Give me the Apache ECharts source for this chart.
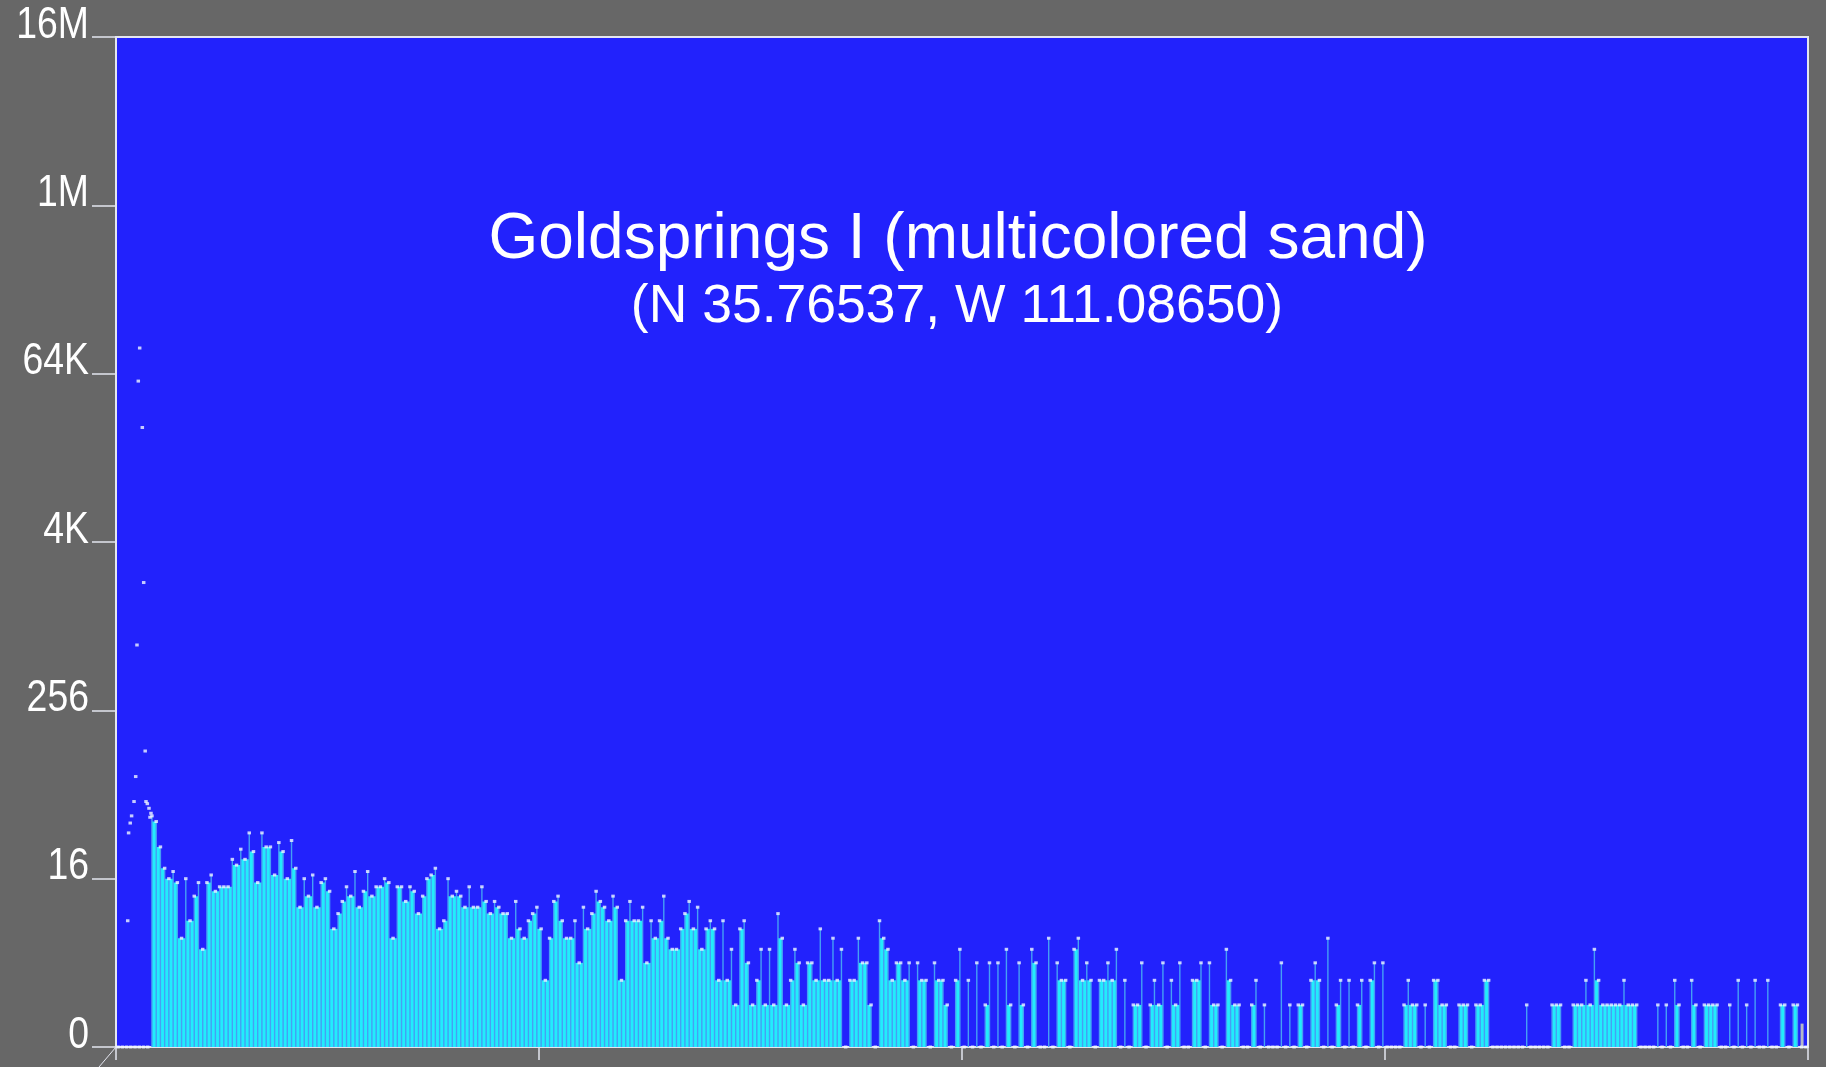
<!DOCTYPE html>
<html>
<head>
<meta charset="utf-8">
<script src="https://cdn.jsdelivr.net/npm/echarts@6/dist/echarts.min.js"></script>
<style>
  html, body { margin: 0; padding: 0; background: #676767; }
  #chart { width: 1826px; height: 1067px; }
</style>
</head>
<body>
<div id="chart"></div>
<script>
// Pixel counts per bin; 400 bins, 100 bins between x ticks.
const countsA = [
  0, 0, 0, 0, 0, 0, 0, 0,
  44, 40, 26, 18, 15, 17, 14, 5, 15, 7,
  11, 14, 4, 14, 16, 12, 13, 13, 13, 21,
  19, 25, 21, 33, 24, 14, 33, 26, 26, 16,
  28, 24, 15, 29, 18, 9, 15, 11, 16, 9,
  14, 15, 12, 6, 8, 10, 13, 11, 17, 9,
  12, 17, 11, 13, 13, 15, 14, 5, 13, 13,
  10, 13, 12, 8, 11, 15, 16, 18, 6, 7,
  15, 11, 12, 11, 9, 13, 9, 9, 13, 10,
  8, 10, 9, 8, 8, 5, 10, 6, 5, 7,
  8, 9
];
const countsB = [
  6, 2, 5, 10, 11, 7, 5, 5, 7, 3,
  9, 6, 8, 12, 10, 9, 7, 11, 9, 2,
  7, 10, 7, 7, 9, 3, 7, 5, 7, 11,
  5, 4, 4, 6, 8, 10, 6, 9, 4, 6,
  7, 6, 2, 7, 2, 4, 1, 6, 7, 3,
  1, 2, 4, 1, 4, 1, 8, 5, 1, 2,
  4, 3, 1, 3, 3, 2, 6, 2, 2, 5,
  2, 4, 0, 2, 2, 5, 3, 3, 1, 0,
  7, 5, 4, 2, 3, 3, 2, 3, 0, 3,
  2, 2, 0, 3, 2, 2, 1, 0, 2, 4
];
const countsC = [
  0, 2, 0, 3, 0, 1, 3, 0, 3, 0,
  4, 1, 0, 3, 1, 0, 4, 3, 0, 0,
  5, 0, 3, 2, 2, 0, 4, 5, 2, 3,
  2, 0, 2, 2, 3, 2, 4, 0, 2, 0,
  1, 1, 3, 0, 1, 2, 1, 3, 0, 2,
  1, 3, 0, 0, 2, 2, 3, 0, 3, 1,
  1, 0, 4, 2, 1, 1, 0, 0, 1, 2,
  0, 1, 0, 0, 0, 3, 0, 1, 0, 1,
  1, 0, 2, 3, 2, 0, 5, 0, 1, 2,
  0, 2, 0, 1, 2, 0, 2, 3, 0, 3
];
const countsD = [
  0, 0, 0, 0, 1, 2, 1, 1, 0, 1,
  0, 2, 2, 1, 1, 0, 0, 1, 1, 1,
  0, 1, 1, 2, 2, 0, 0, 0, 0, 0,
  0, 0, 0, 1, 0, 0, 0, 0, 0, 1,
  1, 1, 0, 0, 1, 1, 1, 2, 1, 4,
  2, 1, 1, 1, 1, 1, 2, 1, 1, 1,
  0, 0, 0, 0, 1, 0, 1, 0, 2, 1,
  0, 0, 2, 1, 0, 1, 1, 1, 1, 0,
  0, 1, 0, 2, 0, 1, 0, 2, 0, 0,
  2, 0, 0, 1, 1, 0, 1, 1, 0, 0
];

// Isolated points before the first bar (position in bin units, count)
const leadBins   = [2.77, 2.98, 3.36, 3.69, 4.26, 4.66, 4.96, 5.27, 5.60, 6.22, 6.55, 6.90, 7.09, 7.40, 7.80, 8.04, 8.27];
const leadCounts = [7, 33, 39, 44, 56, 85, 750, 58000, 100000, 27000, 2100, 130, 56, 54, 50, 43, 46];

// Overflow marker at the right end of the range
const tailBins   = [398.6];
const tailCounts = [0.47];

// Y tick labels, one per power of 16
const yTickValues = [0, 1, 2, 3, 4, 5, 6];
const yTickLabels = ['0', '16', '256', '4K', '64K', '1M', '16M'];

const titleText = 'Goldsprings I (multicolored sand)';
const subtitleText = '(N 35.76537, W 111.08650)';

const counts = countsA.concat(countsB, countsC, countsD);
const toAxis = c => Math.log(c + 1) / Math.log(16);

const FILL = '#22ecfc';
const STEM = '#45a0f4';
const DOT = '#f0f7ff';
const LINE = '#e4e6f0';
const LABEL_FONT = '44px "Liberation Sans", Arial, sans-serif';

// Shaded band between neighbouring non-empty bins, up to the lower of the two
const fillData = [];
for (let i = 0; i < counts.length - 1; i++) {
  if (counts[i] > 0 && counts[i + 1] > 0) {
    fillData.push([i + 0.5, i + 1.5, toAxis(Math.min(counts[i], counts[i + 1]))]);
  }
}
const stemData = [];
counts.forEach((c, i) => { if (c > 0) stemData.push([i + 0.5, toAxis(c)]); });
const dotData = counts.map((c, i) => [i + 0.5, toAxis(c)]);
const leadData = leadBins.map((b, i) => [b, toAxis(leadCounts[i])]);
const tailData = tailBins.map((b, i) => [b, toAxis(tailCounts[i])]);

const chart = echarts.init(document.getElementById('chart'), null, { renderer: 'canvas' });

chart.setOption({
  animation: false,
  backgroundColor: '#676767',
  grid: {
    left: 116, top: 37, right: 18, bottom: 20,
    show: true, backgroundColor: '#2222fc',
    borderColor: LINE, borderWidth: 2
  },
  xAxis: {
    type: 'value', min: 0, max: 400, interval: 100,
    axisLine: { show: true, onZero: false, lineStyle: { color: LINE, width: 2 } },
    axisTick: { show: true, length: 13, lineStyle: { color: LINE, width: 1.5 } },
    axisLabel: { show: false },
    splitLine: { show: false }
  },
  yAxis: {
    type: 'value', min: 0, max: 6, interval: 1,
    axisLine: { show: true, lineStyle: { color: LINE, width: 2 } },
    axisTick: { show: true, length: 24, lineStyle: { color: LINE, width: 1.5 } },
    axisLabel: { show: false },
    splitLine: { show: false }
  },
  series: [
    {
      name: 'fill', type: 'custom', silent: true, z: 2,
      data: fillData,
      encode: { x: [0, 1], y: 2 },
      renderItem: (params, api) => {
        const p0 = api.coord([api.value(0), api.value(2)]);
        const p1 = api.coord([api.value(1), 0]);
        return {
          type: 'rect',
          shape: { x: p0[0], y: p0[1], width: p1[0] - p0[0], height: p1[1] - p0[1] },
          style: { fill: FILL }
        };
      }
    },
    {
      name: 'stems', type: 'custom', silent: true, z: 3,
      data: stemData,
      encode: { x: 0, y: 1 },
      renderItem: (params, api) => {
        const top = api.coord([api.value(0), api.value(1)]);
        const base = api.coord([api.value(0), 0]);
        return {
          type: 'rect',
          shape: { x: top[0] - 0.7, y: top[1], width: 1.4, height: base[1] - top[1] },
          style: { fill: STEM }
        };
      }
    },
    {
      name: 'tail', type: 'custom', silent: true, z: 3,
      data: tailData,
      encode: { x: 0, y: 1 },
      renderItem: (params, api) => {
        const top = api.coord([api.value(0), api.value(1)]);
        const base = api.coord([api.value(0), 0]);
        return {
          type: 'rect',
          shape: { x: top[0] - 1.5, y: top[1], width: 3, height: base[1] - top[1] },
          style: { fill: '#b4b8c8' }
        };
      }
    },
    {
      name: 'points', type: 'scatter', silent: true, z: 4,
      symbol: 'rect', symbolSize: [3.5, 3],
      itemStyle: { color: DOT },
      data: dotData
    },
    {
      name: 'lead', type: 'scatter', silent: true, z: 4,
      symbol: 'rect', symbolSize: [3.5, 3],
      itemStyle: { color: DOT },
      data: leadData
    }
  ]
});

// Titles, the condensed y tick labels and the corner mark, placed from the axis scale
const x0px = chart.convertToPixel({ xAxisIndex: 0 }, 0);
const y0px = chart.convertToPixel({ yAxisIndex: 0 }, 0);
const graphics = [
  {
    type: 'text', x: 958, y: 240, z: 100,
    style: {
      text: titleText, fill: '#ffffff',
      font: '64px "Liberation Sans", Arial, sans-serif',
      align: 'center', verticalAlign: 'middle'
    }
  },
  {
    type: 'text', x: 957, y: 307, z: 100,
    style: {
      text: subtitleText, fill: '#ffffff',
      font: '53.5px "Liberation Sans", Arial, sans-serif',
      align: 'center', verticalAlign: 'middle'
    }
  },
  {
    type: 'line', z: 100,
    shape: { x1: x0px, y1: y0px, x2: x0px - 17, y2: y0px + 20 },
    style: { stroke: LINE, lineWidth: 1 }
  }
];
yTickValues.forEach((v, i) => {
  const py = chart.convertToPixel({ yAxisIndex: 0 }, v);
  graphics.push({
    type: 'text', x: x0px - 27, y: py - 11.5, scaleX: 0.85, z: 100,
    style: {
      text: yTickLabels[i], fill: '#ffffff', font: LABEL_FONT,
      align: 'right', verticalAlign: 'middle'
    }
  });
});
chart.setOption({ graphic: graphics });
</script>
</body>
</html>
